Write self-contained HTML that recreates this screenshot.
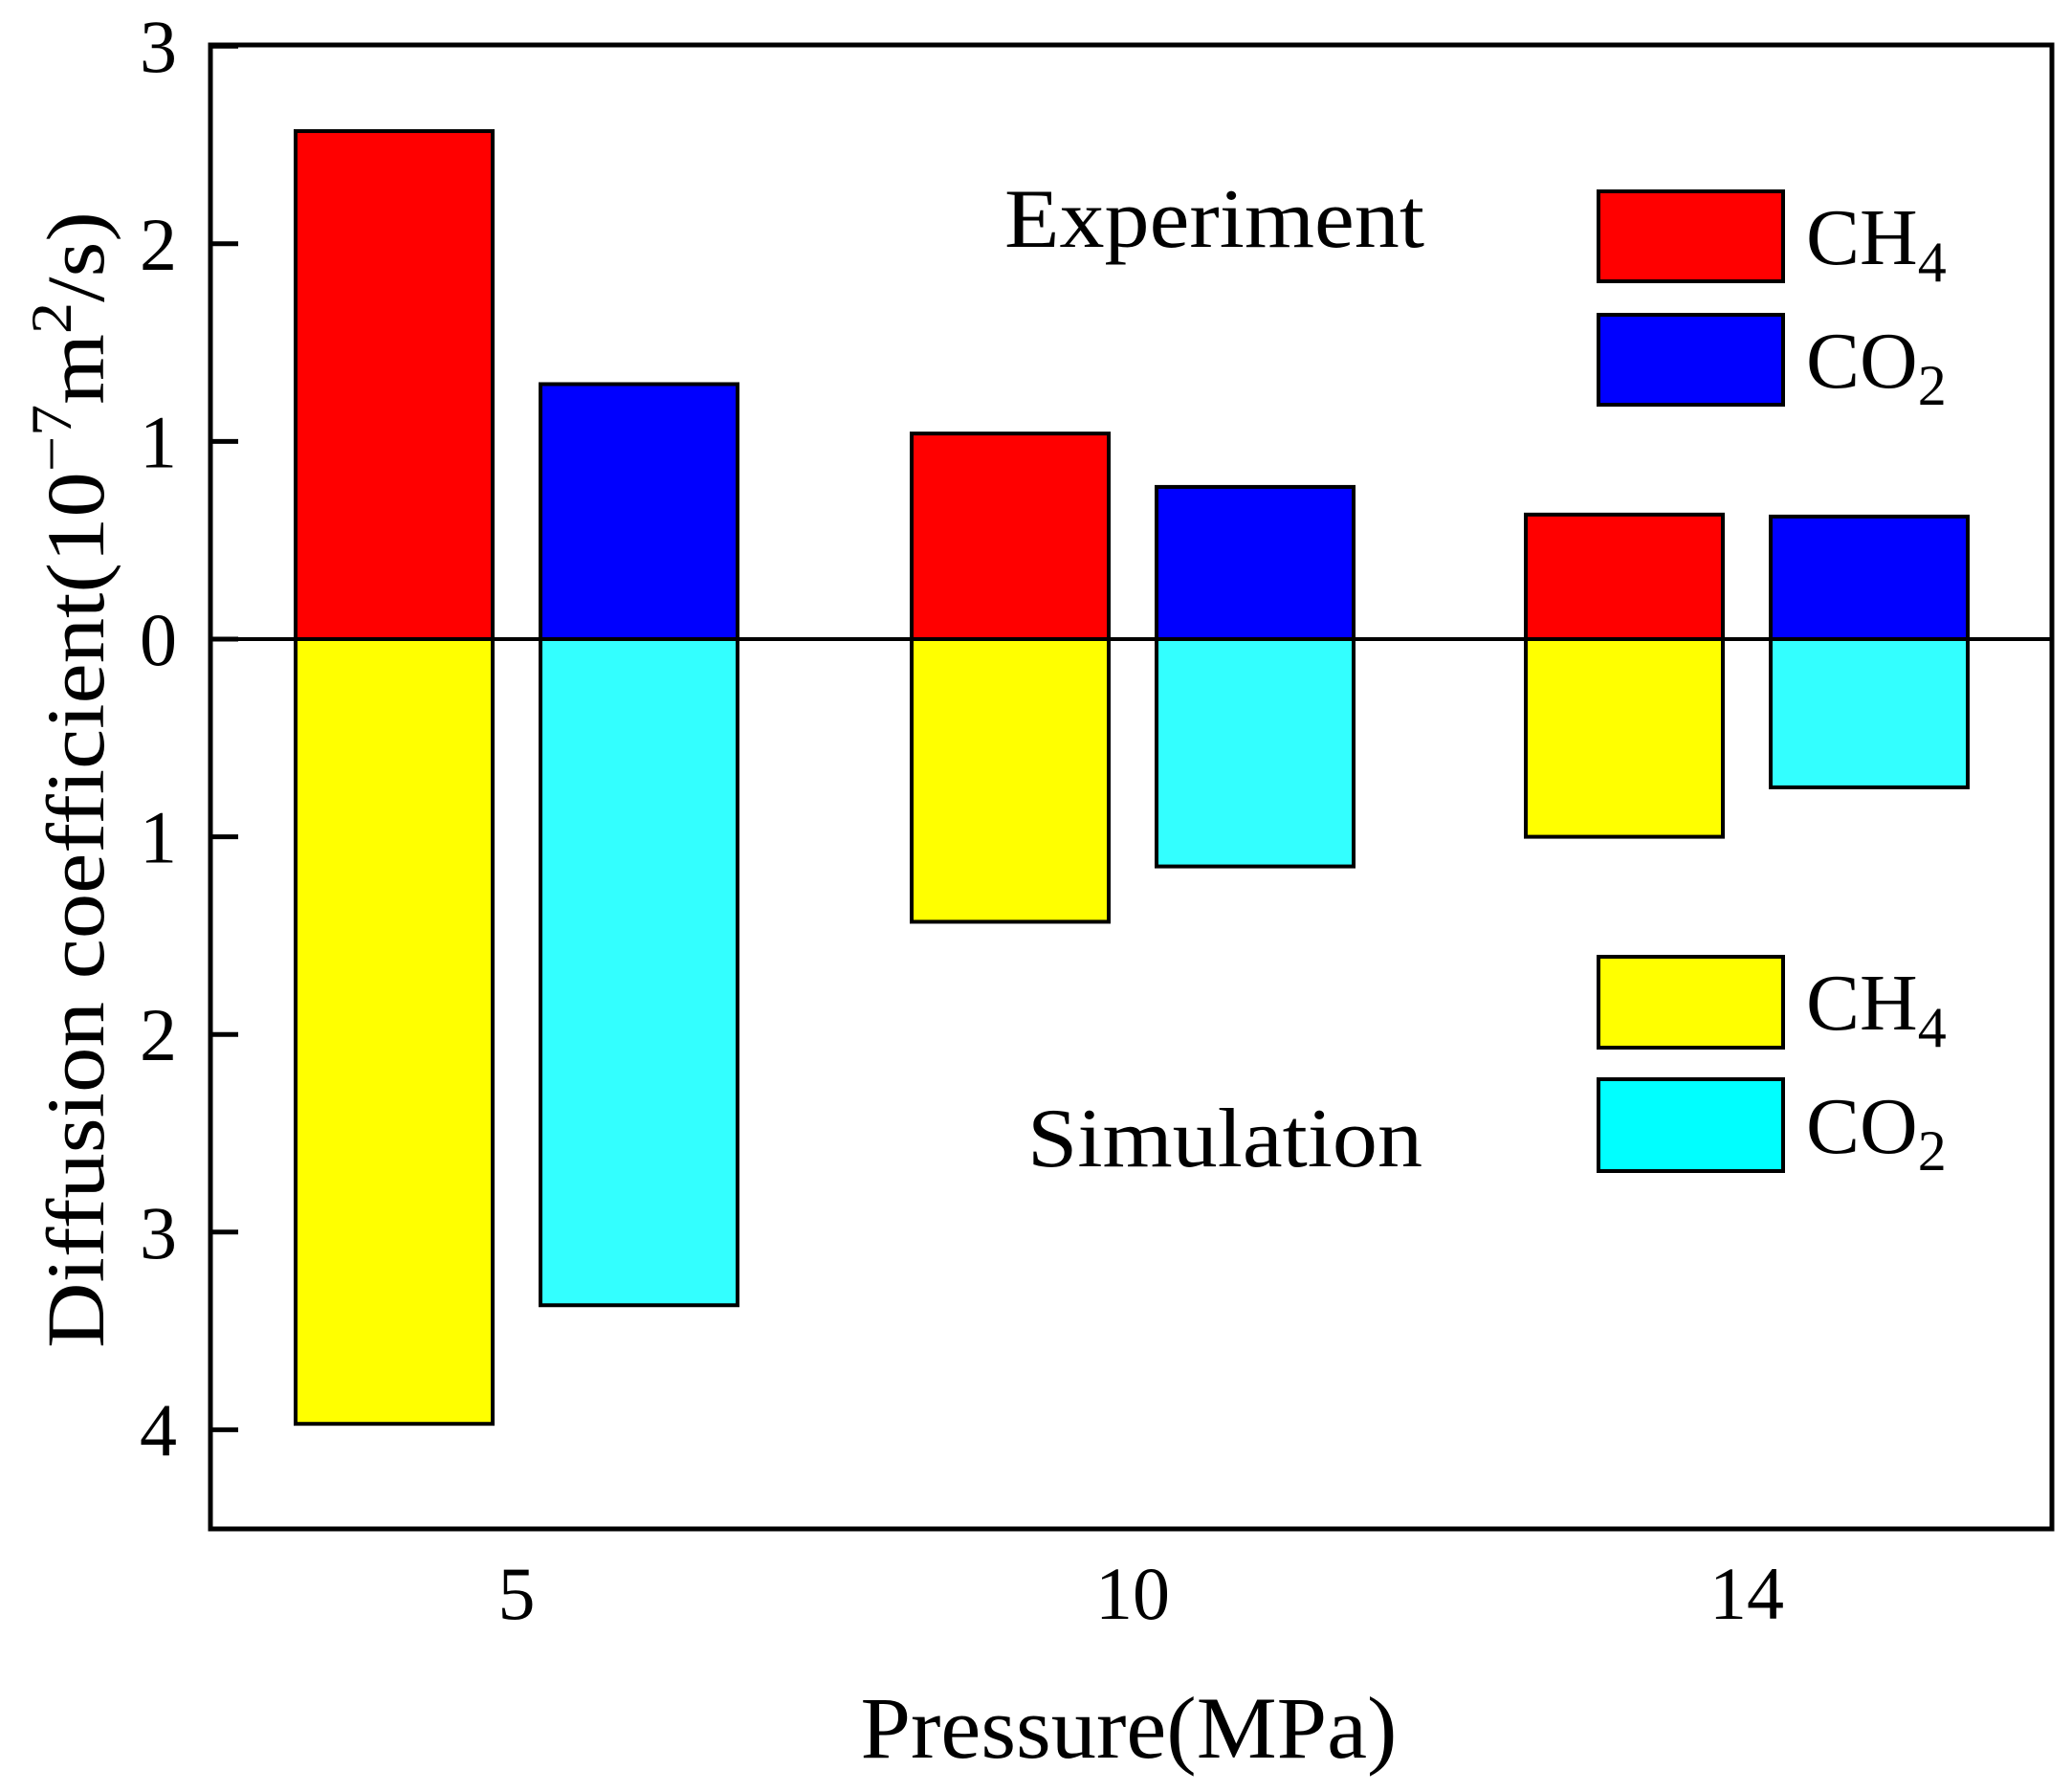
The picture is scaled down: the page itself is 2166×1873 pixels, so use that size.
<!DOCTYPE html>
<html><head><meta charset="utf-8"><style>html,body{margin:0;padding:0;background:#fff}svg{display:block}</style></head>
<body>
<svg id="chart" xmlns="http://www.w3.org/2000/svg" width="2166" height="1873" viewBox="0 0 2166 1873" font-family="'Liberation Serif', serif">
<rect x="0" y="0" width="2166" height="1873" fill="#fff"/>
<g id="bars"></g>
<line x1="220" x2="2145" y1="668" y2="668" stroke="#000" stroke-width="4"/>
<rect x="220" y="47" width="1925" height="1551" fill="none" stroke="#000" stroke-width="5"/>
<g id="yticks"></g>
<g id="xticks"></g>
<text x="1050" y="258" font-size="88" textLength="439" lengthAdjust="spacingAndGlyphs">Experiment</text>
<text x="1074" y="1219" font-size="88" textLength="413" lengthAdjust="spacingAndGlyphs">Simulation</text>
<g>
<rect x="1671" y="200" width="193" height="94" fill="#ff0000" stroke="#000" stroke-width="4"/>
<text x="1888" y="276" font-size="84">CH<tspan font-size="60" dy="18">4</tspan></text>
<rect x="1671" y="329" width="193" height="94" fill="#0000ff" stroke="#000" stroke-width="4"/>
<text x="1888" y="405" font-size="84">CO<tspan font-size="60" dy="18">2</tspan></text>
</g>
<g>
<rect x="1671" y="1000" width="193" height="95" fill="#ffff00" stroke="#000" stroke-width="4"/>
<text x="1888" y="1076" font-size="84">CH<tspan font-size="60" dy="18">4</tspan></text>
<rect x="1671" y="1128" width="193" height="96" fill="#00ffff" stroke="#000" stroke-width="4"/>
<text x="1888" y="1205" font-size="84">CO<tspan font-size="60" dy="18">2</tspan></text>
</g>
<text x="1180" y="1837" font-size="92" text-anchor="middle" textLength="561" lengthAdjust="spacingAndGlyphs">Pressure(MPa)</text>
<text transform="translate(108,815) rotate(-90)" font-size="86" text-anchor="middle" textLength="1188" lengthAdjust="spacingAndGlyphs">Diffusion coefficient(10<tspan font-size="60" dy="-34">−7</tspan><tspan dy="34">m</tspan><tspan font-size="60" dy="-34">2</tspan><tspan dy="34">/s)</tspan></text>
</svg>
<script>
const categories = ["5", "10", "14"];
const expCH4 = [2.57, 1.04, 0.63];
const expCO2 = [1.29, 0.77, 0.62];
const simCH4 = [3.97, 1.43, 1.0];
const simCO2 = [3.37, 1.15, 0.75];
const yTicksUp = [0, 1, 2, 3];
const yTicksDown = [1, 2, 3, 4];

const NS = "http://www.w3.org/2000/svg";
const zeroY = 668, unit = 206.6;
const groupX = [540, 1184, 1826];
const barW = 206, offset = 128;
function yUp(v){ return zeroY - v*unit; }
function yDown(v){ return zeroY + v*unit; }
function xCat(i){ return groupX[i]; }

const bars = document.getElementById('bars');
function bar(x, y1, y2, fill, name){
  const r = document.createElementNS(NS,'rect');
  r.setAttribute('x', x - barW/2);
  r.setAttribute('y', Math.min(y1,y2));
  r.setAttribute('width', barW);
  r.setAttribute('height', Math.abs(y2-y1));
  r.setAttribute('fill', fill);
  r.setAttribute('stroke', '#000');
  r.setAttribute('stroke-width', '4');
  
  
  bars.appendChild(r);
}
categories.forEach((c,i)=>{
  bar(xCat(i)-offset, zeroY, yUp(expCH4[i]), '#ff0000', 'bar-exp-ch4-'+c);
  bar(xCat(i)+offset, zeroY, yUp(expCO2[i]), '#0000ff', 'bar-exp-co2-'+c);
  bar(xCat(i)-offset, zeroY, yDown(simCH4[i]), '#ffff00', 'bar-sim-ch4-'+c);
  bar(xCat(i)+offset, zeroY, yDown(simCO2[i]), '#33ffff', 'bar-sim-co2-'+c);
});

const yt = document.getElementById('yticks');
function ytick(y, label, name){
  const l = document.createElementNS(NS,'line');
  l.setAttribute('x1', 220); l.setAttribute('x2', 249);
  l.setAttribute('y1', y); l.setAttribute('y2', y);
  l.setAttribute('stroke', '#000'); l.setAttribute('stroke-width', '5');
  
  
  yt.appendChild(l);
  const t = document.createElementNS(NS,'text');
  t.setAttribute('x', 185); t.setAttribute('y', y+27);
  t.setAttribute('font-size', '78'); t.setAttribute('text-anchor', 'end');
  t.textContent = label;
  
  
  yt.appendChild(t);
}
yTicksUp.forEach(v=>ytick(yUp(v), String(v), 'y-tick-up-'+v));
yTicksDown.forEach(v=>ytick(yDown(v), String(v), 'y-tick-down-'+v));

const xt = document.getElementById('xticks');
categories.forEach((c,i)=>{
  const t = document.createElementNS(NS,'text');
  t.setAttribute('x', xCat(i)); t.setAttribute('y', 1692);
  t.setAttribute('font-size', '78'); t.setAttribute('text-anchor', 'middle');
  t.textContent = c;
  
  
  xt.appendChild(t);
});
</script>
</body></html>
